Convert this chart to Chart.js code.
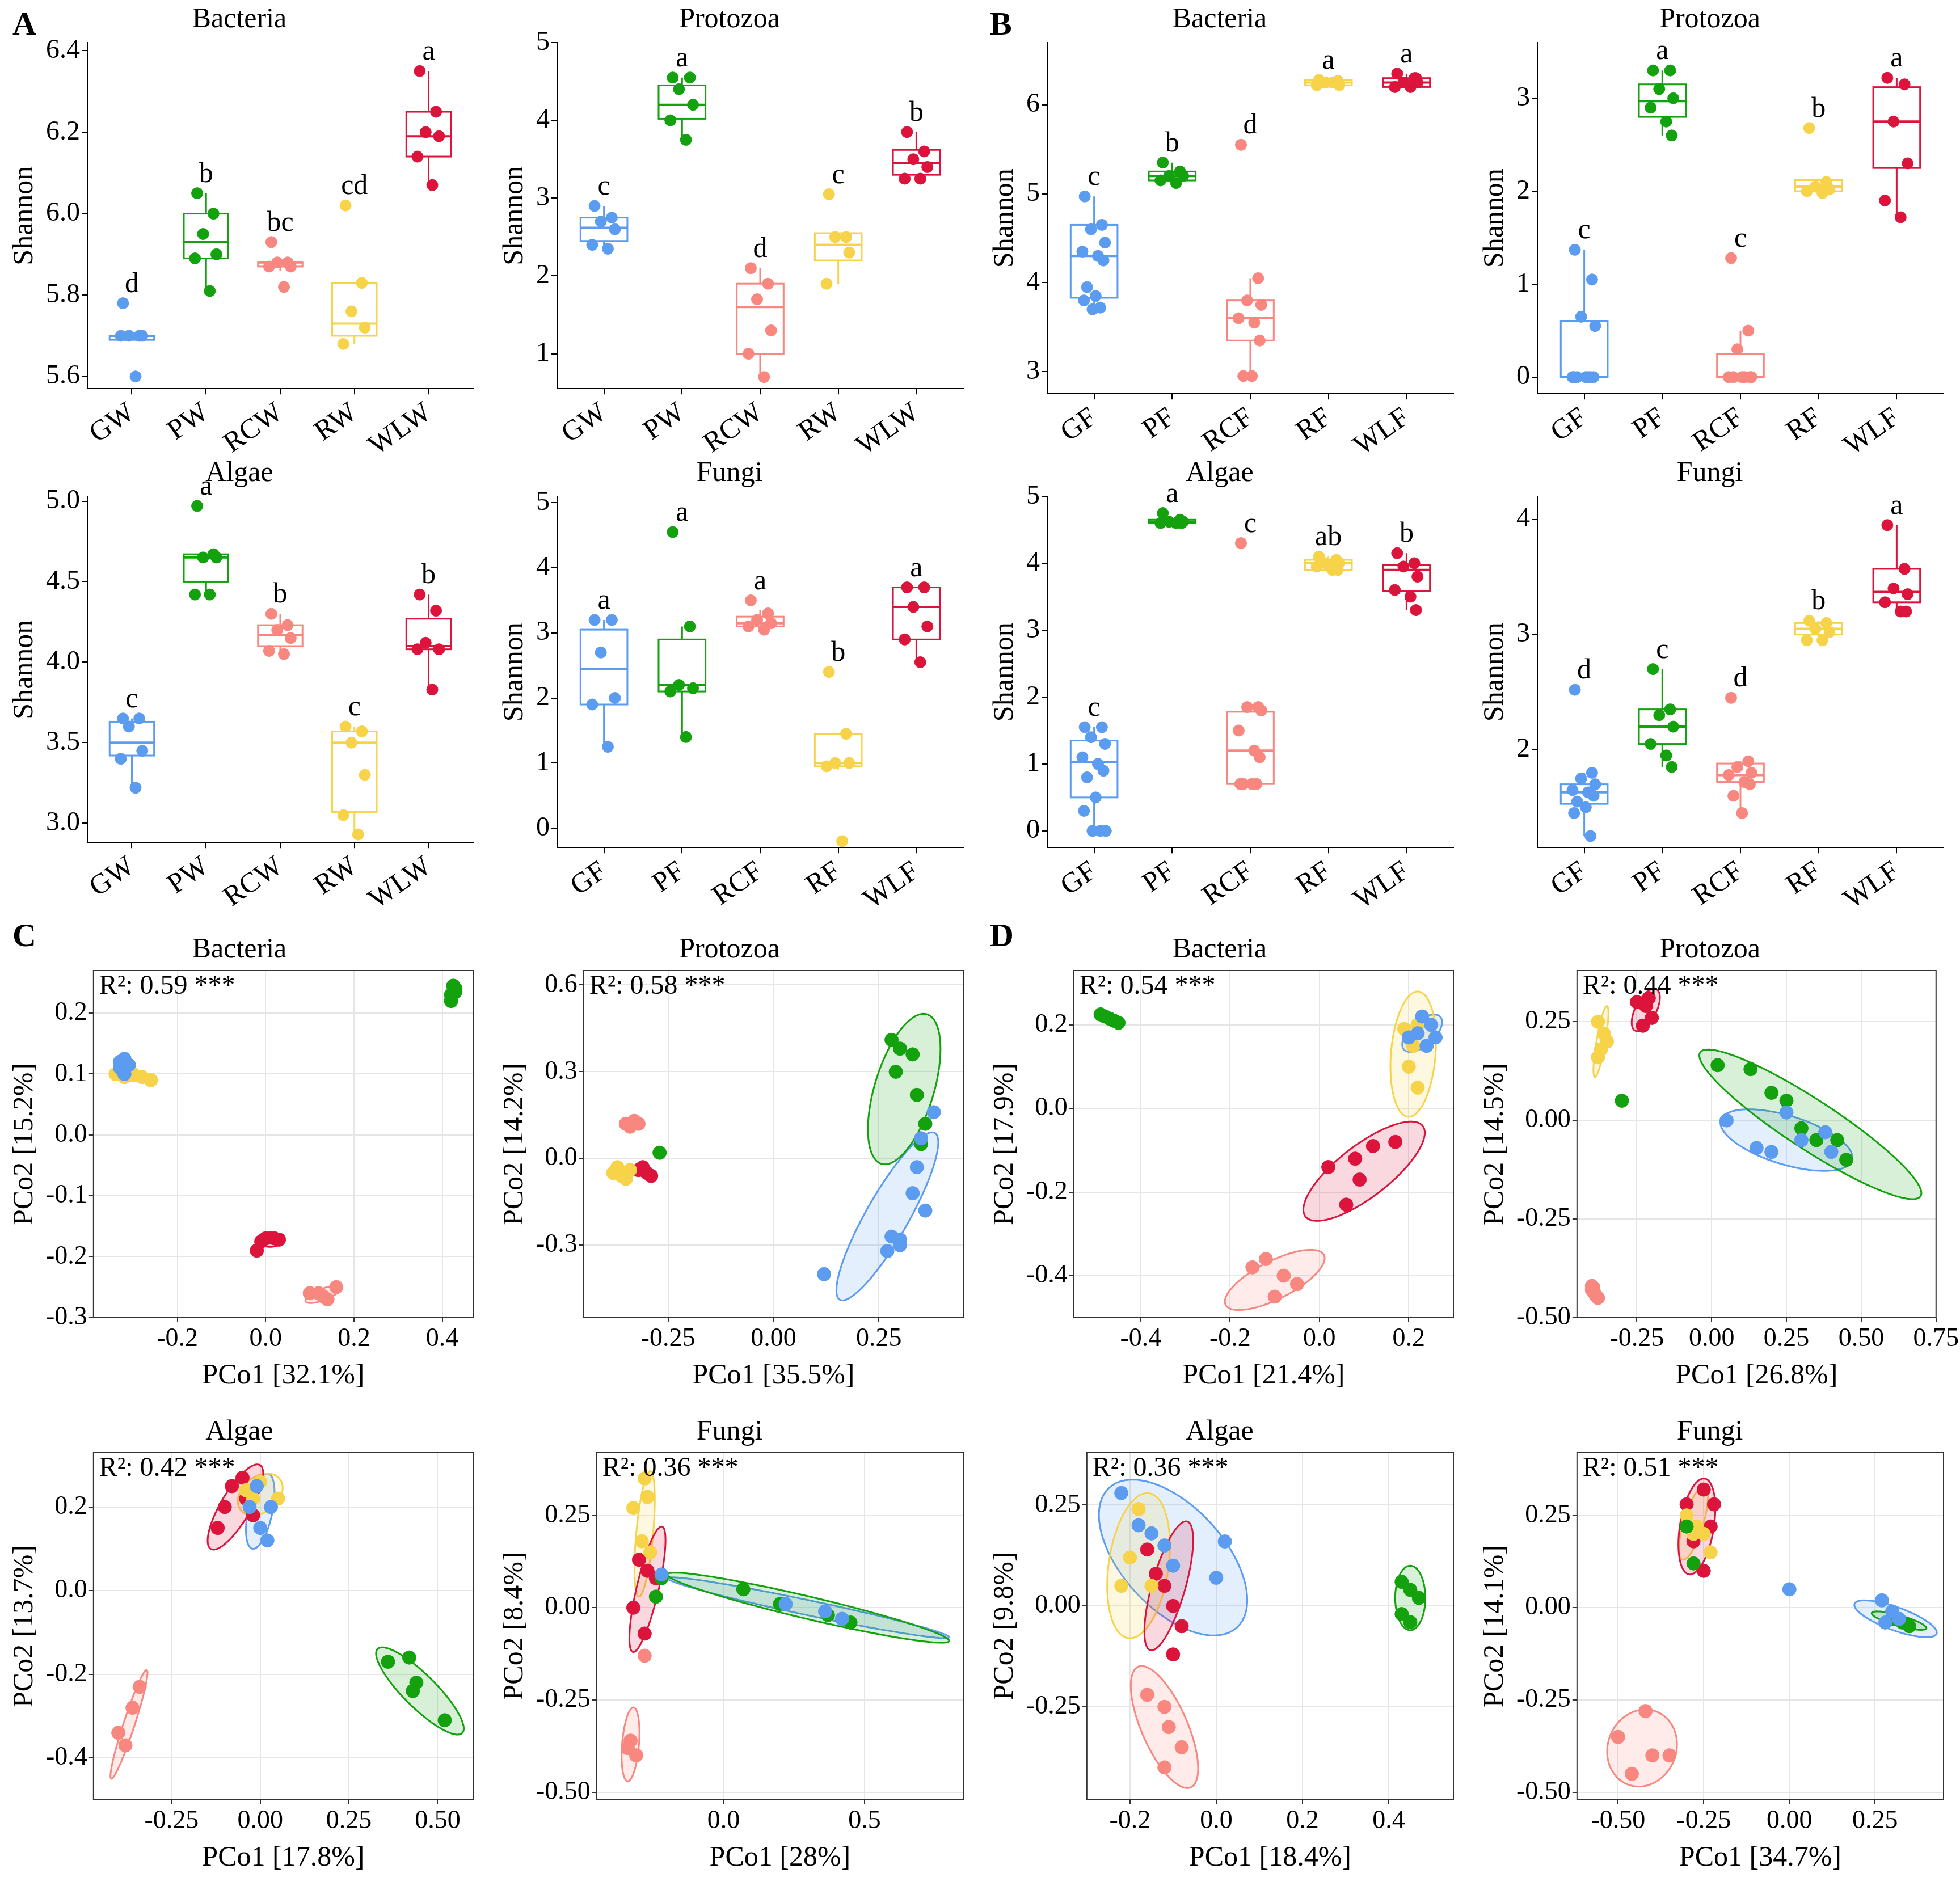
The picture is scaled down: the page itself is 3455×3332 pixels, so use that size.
<!DOCTYPE html>
<html>
<head>
<meta charset="utf-8">
<script src="https://cdn.jsdelivr.net/npm/chart.js@4.4.0/dist/chart.umd.min.js"></script>
<style>
  body { margin: 0; background: #fff; width: 3455px; height: 3332px; position: relative; font-family: "Liberation Serif", serif; }
  .panel { position: absolute; width: 864px; height: 820px; }
  .tag { position: absolute; font: bold 58px "Liberation Serif", serif; }
</style>
</head>
<body>
<div class="tag" style="left:22px;top:8px">A</div>
<div class="tag" style="left:1745px;top:8px">B</div>
<div class="tag" style="left:22px;top:1615px">C</div>
<div class="tag" style="left:1745px;top:1615px">D</div>

<div class="panel" style="left:0;top:0"><canvas id="c1"></canvas></div>
<div class="panel" style="left:864px;top:0"><canvas id="c2"></canvas></div>
<div class="panel" style="left:1728px;top:0"><canvas id="c3"></canvas></div>
<div class="panel" style="left:2592px;top:0"><canvas id="c4"></canvas></div>
<div class="panel" style="left:0;top:800px"><canvas id="c5"></canvas></div>
<div class="panel" style="left:864px;top:800px"><canvas id="c6"></canvas></div>
<div class="panel" style="left:1728px;top:800px"><canvas id="c7"></canvas></div>
<div class="panel" style="left:2592px;top:800px"><canvas id="c8"></canvas></div>
<div class="panel" style="left:0;top:1640px"><canvas id="c9"></canvas></div>
<div class="panel" style="left:864px;top:1640px"><canvas id="c10"></canvas></div>
<div class="panel" style="left:1728px;top:1640px"><canvas id="c11"></canvas></div>
<div class="panel" style="left:2592px;top:1640px"><canvas id="c12"></canvas></div>
<div class="panel" style="left:0;top:2490px"><canvas id="c13"></canvas></div>
<div class="panel" style="left:864px;top:2490px"><canvas id="c14"></canvas></div>
<div class="panel" style="left:1728px;top:2490px"><canvas id="c15"></canvas></div>
<div class="panel" style="left:2592px;top:2490px"><canvas id="c16"></canvas></div>

<script>
// ---- shared ----
const waterGroups = ['GW', 'PW', 'RCW', 'RW', 'WLW'];
const fishGroups = ['GF', 'PF', 'RCF', 'RF', 'WLF'];
const colors = ['#5b9bf0', '#13a10e', '#f8877f', '#f7d34a', '#dc143c'];
const jitter = [-0.12, 0.1, -0.04, 0.14, -0.15, 0.05, 0.12, -0.09, 0.02, -0.13, 0.08, -0.02, 0.15];

// ---- A: water alpha diversity ([lowWhisker, q1, median, q3, highWhisker]) ----
const aBacStats = [[5.69,5.69,5.70,5.70,5.70],[5.81,5.89,5.93,6.00,6.05],[5.86,5.87,5.88,5.88,5.88],[5.68,5.70,5.73,5.83,5.83],[6.07,6.14,6.19,6.25,6.35]];
const aBacPts = [[5.78,5.70,5.70,5.70,5.70,5.60],[6.05,6.00,5.95,5.90,5.89,5.81],[5.93,5.88,5.88,5.87,5.87,5.82],[6.02,5.83,5.76,5.72,5.68],[6.35,6.25,6.20,6.19,6.14,6.07]];
const aBacLetters = ['d','b','bc','cd','a'];

const aProStats = [[2.35,2.45,2.62,2.75,2.9],[3.75,4.02,4.2,4.45,4.55],[0.7,1.0,1.6,1.9,2.1],[1.9,2.2,2.4,2.55,2.55],[3.25,3.3,3.45,3.62,3.85]];
const aProPts = [[2.9,2.75,2.7,2.6,2.4,2.35],[4.55,4.55,4.4,4.2,4.0,3.75],[2.1,1.9,1.7,1.3,1.0,0.7],[3.05,2.5,2.5,2.3,1.9],[3.85,3.6,3.5,3.4,3.25,3.25]];
const aProLetters = ['c','a','d','c','b'];

const aAlgStats = [[3.22,3.42,3.5,3.63,3.65],[4.42,4.5,4.65,4.67,4.67],[4.05,4.1,4.17,4.23,4.3],[2.93,3.07,3.5,3.57,3.6],[3.83,4.08,4.1,4.27,4.42]];
const aAlgPts = [[3.65,3.65,3.6,3.45,3.4,3.22],[4.97,4.67,4.65,4.65,4.42,4.42],[4.3,4.23,4.2,4.15,4.07,4.05],[3.6,3.57,3.5,3.3,3.05,2.93],[4.42,4.32,4.12,4.08,4.08,3.83]];
const aAlgLetters = ['c','a','b','c','b'];

const aFunStats = [[1.25,1.9,2.45,3.05,3.2],[1.4,2.1,2.2,2.9,3.1],[3.05,3.1,3.15,3.25,3.35],[0.9,0.95,1.0,1.45,1.45],[2.55,2.9,3.4,3.7,3.7]];
const aFunPts = [[3.2,3.2,2.7,2.0,1.9,1.25],[4.55,3.1,2.2,2.15,2.1,1.4],[3.5,3.3,3.2,3.15,3.1,3.05],[2.4,1.45,1.0,1.0,0.95,-0.2],[3.7,3.7,3.4,3.1,2.9,2.55]];
const aFunLetters = ['a','a','a','b','a'];

// ---- B: fish alpha diversity ----
const bBacStats = [[3.7,3.83,4.3,4.65,4.97],[5.12,5.15,5.2,5.25,5.35],[2.95,3.35,3.6,3.8,4.05],[6.22,6.22,6.25,6.28,6.28],[6.2,6.2,6.25,6.3,6.35]];
const bBacPts = [[4.97,4.65,4.6,4.45,4.35,4.3,4.25,3.95,3.85,3.8,3.72,3.7],[5.35,5.25,5.2,5.2,5.15,5.12],[5.55,4.05,3.8,3.75,3.6,3.55,3.35,2.95,2.95],[6.28,6.25,6.25,6.22,6.22,6.25,6.27],[6.35,6.3,6.25,6.25,6.2,6.2,6.3]];
const bBacLetters = ['c','b','d','a','a'];

const bProStats = [[0,0,0,0.6,1.37],[2.6,2.8,2.97,3.15,3.3],[0,0,0,0.25,0.5],[1.97,2.0,2.05,2.12,2.12],[1.72,2.25,2.75,3.12,3.22]];
const bProPts = [[1.37,1.05,0.65,0.55,0,0,0,0,0,0,0],[3.3,3.3,3.1,3.0,2.9,2.75,2.6],[1.28,0.5,0.3,0,0,0,0,0,0],[2.68,2.1,2.05,2.02,2.0,1.98],[3.22,3.15,2.75,2.3,1.9,1.72]];
const bProLetters = ['c','a','c','b','a'];

const bAlgStats = [[0,0.5,1.03,1.35,1.55],[4.6,4.6,4.62,4.65,4.65],[0.7,0.7,1.2,1.78,1.85],[3.9,3.9,4.0,4.05,4.1],[3.3,3.58,3.9,3.97,4.15]];
const bAlgPts = [[1.55,1.55,1.4,1.3,1.1,1.0,0.9,0.8,0.5,0.3,0,0,0],[4.75,4.65,4.62,4.62,4.6,4.6,4.6],[4.3,1.85,1.85,1.8,1.5,1.2,1.1,0.7,0.7,0.7,0.7],[4.1,4.05,4.0,4.0,3.95,3.9,3.9],[4.15,4.0,3.95,3.8,3.6,3.5,3.3]];
const bAlgLetters = ['c','a','c','ab','b'];

const bFunStats = [[1.25,1.53,1.63,1.7,1.8],[1.85,2.05,2.2,2.35,2.7],[1.45,1.72,1.78,1.88,1.9],[2.95,3.0,3.05,3.1,3.12],[3.2,3.28,3.37,3.57,3.95]];
const bFunPts = [[2.52,1.8,1.75,1.7,1.65,1.63,1.6,1.55,1.5,1.45,1.25],[2.7,2.35,2.3,2.2,2.05,1.95,1.85],[2.45,1.9,1.85,1.8,1.78,1.72,1.7,1.6,1.45],[3.12,3.1,3.05,3.02,2.95,2.95],[3.95,3.57,3.4,3.35,3.28,3.2,3.2]];
const bFunLetters = ['d','c','d','b','a'];

// ---- C/D: PCoA points per group (blue, green, salmon, yellow, red) ----
const cBacPts = [
  [[-0.33,0.12],[-0.32,0.125],[-0.33,0.11],[-0.31,0.115],[-0.32,0.10]],
  [[0.42,0.23],[0.43,0.24],[0.42,0.22],[0.43,0.235],[0.425,0.245]],
  [[0.12,-0.26],[0.14,-0.27],[0.16,-0.25],[0.13,-0.265],[0.10,-0.26]],
  [[-0.32,0.095],[-0.30,0.10],[-0.28,0.095],[-0.26,0.09],[-0.34,0.10]],
  [[0,-0.17],[0.02,-0.17],[-0.01,-0.175],[0.03,-0.172],[-0.02,-0.19]]];
const cBacEll = [[-0.32,0.115,0.02,0,0,0.012],[0.425,0.235,0.01,0.015,0.008,0],[0.13,-0.262,0.04,0.01,0,0.01],[-0.3,0.096,0.04,0,0,0.008],[0.01,-0.172,0.03,0,0,0.012]];

const cProPts = [
  [[0.38,0.16],[0.35,0.07],[0.34,-0.03],[0.33,-0.12],[0.36,-0.18],[0.28,-0.27],[0.30,-0.3],[0.27,-0.32],[0.12,-0.4],[0.3,-0.28]],
  [[-0.27,0.02],[0.28,0.41],[0.3,0.38],[0.33,0.36],[0.29,0.3],[0.34,0.22],[0.36,0.12],[0.35,0.05]],
  [[-0.35,0.12],[-0.33,0.13],[-0.34,0.11],[-0.32,0.12]],
  [[-0.38,-0.05],[-0.36,-0.06],[-0.34,-0.04],[-0.37,-0.03],[-0.35,-0.07]],
  [[-0.32,-0.04],[-0.30,-0.05],[-0.31,-0.03],[-0.29,-0.06]]];
const cProEll = [[0.27,-0.2,0.11,0.29,0.05,-0.02],[0.31,0.24,0.05,0.26,0.07,-0.015],null,null,null];

const cAlgPts = [
  [[-0.03,0.2],[0.0,0.15],[0.02,0.12],[-0.01,0.25],[0.03,0.2]],
  [[0.36,-0.17],[0.42,-0.16],[0.44,-0.22],[0.43,-0.24],[0.52,-0.31]],
  [[-0.4,-0.34],[-0.38,-0.37],[-0.36,-0.28],[-0.34,-0.23]],
  [[-0.02,0.22],[0.0,0.26],[0.05,0.22],[-0.04,0.24]],
  [[-0.1,0.2],[-0.08,0.25],[-0.05,0.27],[-0.12,0.15],[-0.04,0.22],[-0.02,0.18]]];
const cAlgEll = [[0.0,0.19,0.02,0.09,0.035,0],[0.45,-0.24,0.12,-0.1,0.03,0.03],[-0.37,-0.32,0.05,0.13,0.015,-0.004],[0.0,0.23,0.06,0.03,0.02,-0.04],[-0.07,0.2,0.07,0.1,0.035,-0.02]];

const cFunPts = [
  [[-0.22,0.09],[0.22,0.01],[0.36,-0.01],[0.42,-0.03]],
  [[-0.22,0.08],[-0.24,0.03],[0.07,0.05],[0.2,0.01],[0.37,-0.02],[0.45,-0.04]],
  [[-0.28,-0.13],[-0.33,-0.36],[-0.31,-0.4],[-0.34,-0.38]],
  [[-0.28,0.35],[-0.27,0.3],[-0.32,0.27],[-0.29,0.18],[-0.26,0.15]],
  [[-0.3,0.13],[-0.27,0.1],[-0.32,0.0],[-0.28,-0.07],[-0.24,0.08]]];
const cFunEll = [[0.3,0.0,0.5,-0.08,0.004,0.02],[0.3,0.0,0.5,-0.09,0.006,0.03],[-0.33,-0.37,0.01,0.1,0.03,0],[-0.28,0.2,0.02,0.17,0.03,0],[-0.27,0.05,0.05,0.17,0.04,0]];

const dBacPts = [
  [[0.23,0.22],[0.25,0.2],[0.22,0.18],[0.26,0.17],[0.24,0.15],[0.2,0.17]],
  [[-0.48,0.22],[-0.46,0.21],[-0.47,0.215],[-0.45,0.205],[-0.49,0.225]],
  [[-0.15,-0.38],[-0.12,-0.36],[-0.08,-0.4],[-0.05,-0.42],[-0.1,-0.45]],
  [[0.19,0.19],[0.21,0.15],[0.2,0.1],[0.22,0.05],[0.22,0.2]],
  [[0.17,-0.08],[0.12,-0.09],[0.08,-0.12],[0.09,-0.17],[0.02,-0.14],[0.06,-0.23]]];
const dBacEll = [[0.23,0.18,0.04,0.04,0.02,-0.02],null,[-0.1,-0.41,0.11,0.06,0.02,-0.04],[0.21,0.13,0.01,0.15,0.05,0],[0.1,-0.15,0.13,0.11,-0.04,0.045]];

const dProPts = [
  [[0.05,0.0],[0.15,-0.07],[0.2,-0.08],[0.25,0.02],[0.3,-0.05],[0.4,-0.08],[0.38,-0.03]],
  [[-0.3,0.05],[0.02,0.14],[0.13,0.13],[0.2,0.07],[0.25,0.05],[0.35,-0.05],[0.42,-0.05],[0.45,-0.1],[0.3,-0.02]],
  [[-0.4,-0.42],[-0.39,-0.44],[-0.38,-0.45],[-0.4,-0.43]],
  [[-0.38,0.25],[-0.36,0.22],[-0.37,0.18],[-0.38,0.16],[-0.35,0.2]],
  [[-0.25,0.3],[-0.22,0.29],[-0.2,0.26],[-0.23,0.24],[-0.21,0.31]]];
const dProEll = [[0.25,-0.05,0.22,-0.05,0.02,0.06],[0.33,-0.01,0.37,-0.18,-0.03,-0.06],[-0.39,-0.435,0.01,0.02,0.01,0],[-0.37,0.2,0.02,0.09,0.015,0],[-0.22,0.28,0.04,0.05,0.025,-0.02]];

const dAlgPts = [
  [[-0.22,0.28],[-0.18,0.2],[-0.15,0.18],[-0.12,0.15],[-0.1,0.1],[0.0,0.07],[0.02,0.16]],
  [[0.43,0.06],[0.45,0.04],[0.47,0.02],[0.43,-0.02],[0.45,-0.04]],
  [[-0.16,-0.22],[-0.12,-0.25],[-0.11,-0.3],[-0.08,-0.35],[-0.12,-0.4]],
  [[-0.18,0.24],[-0.2,0.12],[-0.22,0.05],[-0.15,0.05]],
  [[-0.16,0.14],[-0.14,0.08],[-0.1,0.0],[-0.12,0.05],[-0.08,-0.05],[-0.1,-0.12]]];
const dAlgEll = [[-0.1,0.12,0.14,-0.18,-0.1,-0.07],[0.45,0.02,0.0,0.08,0.035,0],[-0.12,-0.3,0.06,-0.15,0.05,0.02],[-0.18,0.1,0.02,0.18,0.07,0],[-0.11,0.05,0.04,0.16,0.04,0]];

const dFunPts = [
  [[0.0,0.05],[0.27,0.02],[0.3,-0.01],[0.32,-0.03],[0.28,-0.04]],
  [[-0.3,0.22],[-0.28,0.12],[0.3,-0.03],[0.33,-0.04],[0.35,-0.05]],
  [[-0.5,-0.35],[-0.46,-0.45],[-0.4,-0.4],[-0.35,-0.4],[-0.42,-0.28]],
  [[-0.3,0.25],[-0.27,0.22],[-0.25,0.2],[-0.23,0.15],[-0.28,0.2]],
  [[-0.3,0.28],[-0.25,0.32],[-0.22,0.28],[-0.28,0.18],[-0.25,0.1],[-0.23,0.22]]];
const dFunEll = [[0.31,-0.03,0.12,-0.04,0.01,0.03],[0.32,-0.035,0.08,-0.02,0,0.015],[-0.43,-0.38,0.1,0.03,0.02,-0.1],[-0.28,0.23,0.03,0.1,0.03,0],[-0.27,0.22,0.02,0.13,0.05,0]];

const FONT = '"Liberation Serif", serif';
Chart.defaults.font.family = FONT;
Chart.defaults.color = '#000';
Chart.defaults.devicePixelRatio = 1;

// box plot drawn through the chart scales
function makeBox(id, title, labels, stats, pts, letters, yMin, yMax, step) {
  const datasets = pts.map((g, i) => ({
    data: g.map((v, k) => ({ x: i + 1 + jitter[k % jitter.length], y: v })),
    backgroundColor: colors[i], borderColor: colors[i], pointRadius: 10
  }));
  const boxPlugin = {
    id: 'box' + id,
    beforeDatasetsDraw(chart) {
      const { ctx, scales: { x, y } } = chart;
      ctx.save();
      ctx.lineWidth = 3;
      stats.forEach((s, i) => {
        const cx = x.getPixelForValue(i + 1);
        const hw = x.getPixelForValue(1.3) - x.getPixelForValue(1);
        ctx.strokeStyle = colors[i];
        ctx.beginPath();
        ctx.moveTo(cx, y.getPixelForValue(s[0])); ctx.lineTo(cx, y.getPixelForValue(s[1]));
        ctx.moveTo(cx, y.getPixelForValue(s[3])); ctx.lineTo(cx, y.getPixelForValue(s[4]));
        ctx.stroke();
        ctx.fillStyle = '#fff';
        const top = y.getPixelForValue(s[3]), bot = y.getPixelForValue(s[1]);
        ctx.fillRect(cx - hw, top, 2 * hw, bot - top);
        ctx.strokeRect(cx - hw, top, 2 * hw, bot - top);
        ctx.lineWidth = 4;
        ctx.beginPath();
        ctx.moveTo(cx - hw, y.getPixelForValue(s[2])); ctx.lineTo(cx + hw, y.getPixelForValue(s[2]));
        ctx.stroke();
        ctx.lineWidth = 3;
      });
      ctx.restore();
    },
    afterDatasetsDraw(chart) {
      const { ctx, scales: { x, y } } = chart;
      ctx.save();
      ctx.fillStyle = '#000';
      ctx.font = '50px ' + FONT;
      ctx.textAlign = 'center';
      ctx.textBaseline = 'bottom';
      letters.forEach((l, i) => {
        const top = Math.max(...pts[i], stats[i][4]);
        ctx.fillText(l, x.getPixelForValue(i + 1), y.getPixelForValue(top) - 8);
      });
      ctx.restore();
    }
  };
  new Chart(document.getElementById(id), {
    type: 'scatter',
    data: { datasets },
    plugins: [boxPlugin],
    options: {
      responsive: true, maintainAspectRatio: false, animation: false,
      layout: { padding: { left: 10, right: 30, top: 5 } },
      plugins: {
        legend: { display: false }, tooltip: { enabled: false },
        title: { display: true, text: title, font: { size: 50, weight: 'normal' }, padding: { bottom: 10 } }
      },
      scales: {
        x: {
          type: 'linear', min: 0.4, max: 5.6,
          afterBuildTicks: ax => { ax.ticks = [1, 2, 3, 4, 5].map(v => ({ value: v })); },
          ticks: { callback: v => labels[v - 1], minRotation: 35, maxRotation: 35, font: { size: 50 }, color: '#000' },
          grid: { display: true, drawOnChartArea: false, color: '#000', tickLength: 10, lineWidth: 2 },
          border: { color: '#000', width: 2 }
        },
        y: {
          min: yMin, max: yMax,
          afterBuildTicks: ax => {
            const t = [];
            for (let v = Math.ceil(yMin / step - 1e-9) * step; v <= yMax + 1e-9; v += step) t.push({ value: +v.toFixed(2) });
            ax.ticks = t;
          },
          ticks: { font: { size: 48 }, color: '#000', callback: v => step < 1 ? v.toFixed(1) : v },
          title: { display: true, text: 'Shannon', font: { size: 50 } },
          grid: { display: true, drawOnChartArea: false, color: '#000', tickLength: 10, lineWidth: 2 },
          border: { color: '#000', width: 2 }
        }
      }
    }
  });
}

// PCoA scatter with ellipses [cx, cy, ax, ay, bx, by]
function makePcoa(id, title, pts, ells, r2, xl, yl, xr, yr, xt, yt) {
  const datasets = pts.map((g, i) => ({
    data: g.map(p => ({ x: p[0], y: p[1] })),
    backgroundColor: colors[i], borderColor: colors[i], pointRadius: 12
  }));
  const ellPlugin = {
    id: 'ell' + id,
    beforeDatasetsDraw(chart) {
      const { ctx, scales: { x, y } } = chart;
      ctx.save();
      ells.forEach((e, i) => {
        if (!e) return;
        ctx.beginPath();
        for (let k = 0; k <= 72; k++) {
          const t = k / 72 * Math.PI * 2;
          const px = x.getPixelForValue(e[0] + Math.cos(t) * e[2] + Math.sin(t) * e[4]);
          const py = y.getPixelForValue(e[1] + Math.cos(t) * e[3] + Math.sin(t) * e[5]);
          k ? ctx.lineTo(px, py) : ctx.moveTo(px, py);
        }
        ctx.closePath();
        ctx.fillStyle = colors[i] + '2a';
        ctx.fill();
        ctx.strokeStyle = colors[i];
        ctx.lineWidth = 3;
        ctx.stroke();
      });
      ctx.restore();
    },
    afterDraw(chart) {
      const { ctx, chartArea } = chart;
      ctx.save();
      ctx.strokeStyle = '#333';
      ctx.lineWidth = 2;
      ctx.strokeRect(chartArea.left, chartArea.top, chartArea.right - chartArea.left, chartArea.bottom - chartArea.top);
      ctx.fillStyle = '#000';
      ctx.font = '48px ' + FONT;
      ctx.textBaseline = 'top';
      ctx.fillText('R\u00b2: ' + r2 + ' ***', chartArea.left + 10, chartArea.top + 4);
      ctx.restore();
    }
  };
  const tickSet = arr => ax => { ax.ticks = arr.map(v => ({ value: v })); };
  new Chart(document.getElementById(id), {
    type: 'scatter',
    data: { datasets },
    plugins: [ellPlugin],
    options: {
      responsive: true, maintainAspectRatio: false, animation: false,
      layout: { padding: { left: 10, right: 30, top: 5 } },
      plugins: {
        legend: { display: false }, tooltip: { enabled: false },
        title: { display: true, text: title, font: { size: 50, weight: 'normal' }, padding: { bottom: 6 } }
      },
      scales: {
        x: {
          min: xl[0], max: xl[1], afterBuildTicks: tickSet(xr),
          ticks: { font: { size: 46 }, color: '#000', maxRotation: 0, callback: v => xt(v) },
          title: { display: true, text: 'PCo1 [' + xl[2] + '%]', font: { size: 50 } },
          grid: { color: '#e6e6e6', lineWidth: 2, tickColor: '#333', tickLength: 8 },
          border: { display: false }
        },
        y: {
          min: yl[0], max: yl[1], afterBuildTicks: tickSet(yr),
          ticks: { font: { size: 46 }, color: '#000', callback: v => yt(v) },
          title: { display: true, text: 'PCo2 [' + yl[2] + '%]', font: { size: 50 } },
          grid: { color: '#e6e6e6', lineWidth: 2, tickColor: '#333', tickLength: 8 },
          border: { display: false }
        }
      }
    }
  });
}
const f1 = v => (Math.abs(v) < 1e-9 ? 0 : v).toFixed(1);
const f2 = v => (Math.abs(v) < 1e-9 ? 0 : v).toFixed(2);

makeBox('c1', 'Bacteria', waterGroups, aBacStats, aBacPts, aBacLetters, 5.57, 6.42, 0.2);
makeBox('c2', 'Protozoa', waterGroups, aProStats, aProPts, aProLetters, 0.55, 5.0, 1);
makeBox('c3', 'Bacteria', fishGroups, bBacStats, bBacPts, bBacLetters, 2.75, 6.7, 1);
makeBox('c4', 'Protozoa', fishGroups, bProStats, bProPts, bProLetters, -0.18, 3.6, 1);
makeBox('c5', 'Algae', waterGroups, aAlgStats, aAlgPts, aAlgLetters, 2.88, 5.03, 0.5);
makeBox('c6', 'Fungi', fishGroups, aFunStats, aFunPts, aFunLetters, -0.3, 5.1, 1);
makeBox('c7', 'Algae', fishGroups, bAlgStats, bAlgPts, bAlgLetters, -0.25, 5.0, 1);
makeBox('c8', 'Fungi', fishGroups, bFunStats, bFunPts, bFunLetters, 1.15, 4.2, 1);

makePcoa('c9', 'Bacteria', cBacPts, cBacEll, '0.59', [-0.39, 0.47, 32.1], [-0.3, 0.27, 15.2], [-0.2, 0, 0.2, 0.4], [-0.3, -0.2, -0.1, 0, 0.1, 0.2], f1, f1);
makePcoa('c10', 'Protozoa', cProPts, cProEll, '0.58', [-0.45, 0.45, 35.5], [-0.55, 0.65, 14.2], [-0.25, 0, 0.25], [-0.3, 0, 0.3, 0.6], f2, f1);
makePcoa('c11', 'Bacteria', dBacPts, dBacEll, '0.54', [-0.55, 0.3, 21.4], [-0.5, 0.33, 17.9], [-0.4, -0.2, 0, 0.2], [-0.4, -0.2, 0, 0.2], f1, f1);
makePcoa('c12', 'Protozoa', dProPts, dProEll, '0.44', [-0.45, 0.75, 26.8], [-0.5, 0.38, 14.5], [-0.25, 0, 0.25, 0.5, 0.75], [-0.5, -0.25, 0, 0.25], f2, f2);
makePcoa('c13', 'Algae', cAlgPts, cAlgEll, '0.42', [-0.47, 0.6, 17.8], [-0.5, 0.33, 13.7], [-0.25, 0, 0.25, 0.5], [-0.4, -0.2, 0, 0.2], f2, f1);
makePcoa('c14', 'Fungi', cFunPts, cFunEll, '0.36', [-0.45, 0.85, 28], [-0.52, 0.42, 8.4], [0, 0.5], [-0.5, -0.25, 0, 0.25], f1, f2);
makePcoa('c15', 'Algae', dAlgPts, dAlgEll, '0.36', [-0.3, 0.55, 18.4], [-0.48, 0.38, 9.8], [-0.2, 0, 0.2, 0.4], [-0.25, 0, 0.25], f1, f2);
makePcoa('c16', 'Fungi', dFunPts, dFunEll, '0.51', [-0.62, 0.45, 34.7], [-0.52, 0.42, 14.1], [-0.5, -0.25, 0, 0.25], [-0.5, -0.25, 0, 0.25], f2, f2);
</script>
</body>
</html>
